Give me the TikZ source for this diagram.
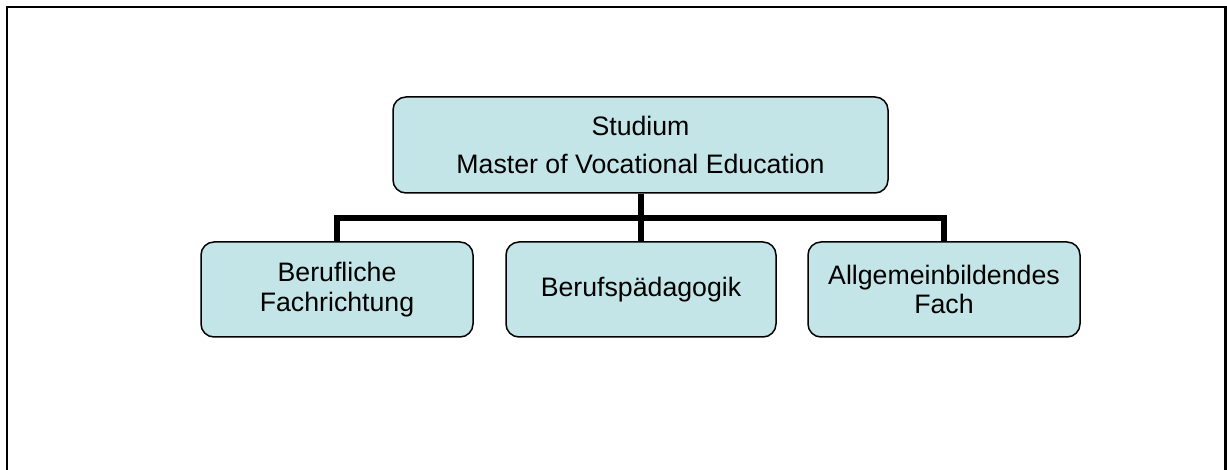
\documentclass[tikz,border=0pt]{standalone}
\usepackage{fontspec}
\setmainfont{Liberation Sans}
\definecolor{boxfill}{RGB}{196,229,231}
\begin{document}
\begin{tikzpicture}[x=1bp,y=-1bp,
  orgbox/.style={draw=black, line width=1.5bp, fill=boxfill, rounded corners=13bp,
    align=center, inner sep=0pt, font=\fontsize{26.8}{29.5}\selectfont},
  conn/.style={line width=6bp}]
\useasboundingbox (0,0) rectangle (1227,470);
\draw[line width=2.5bp] (7,470) -- (7,7) -- (1225.5,7) -- (1225.5,470);
\node[orgbox, minimum width=495bp, minimum height=96bp] (top) at (640.5,145)
  {Studium\\[9bp]Master of Vocational Education};
\node[orgbox, minimum width=272bp, minimum height=95bp] (left) at (337,289.5)
  {Berufliche\\Fachrichtung};
\node[orgbox, minimum width=270bp, minimum height=95bp] (mid) at (641,289.5)
  {\raisebox{4bp}{Berufspädagogik}};
\node[orgbox, minimum width=272bp, minimum height=95bp] (right) at (944,289.5)
  {Allgemeinbildendes\\Fach};
\coordinate (bus) at (640.5,218);
\draw[conn] (left.north) -- (left.north |- bus) -- (right.north |- bus) -- (right.north);
\draw[conn] (top.south) -- (top.south |- mid.north);
\end{tikzpicture}
\end{document}
